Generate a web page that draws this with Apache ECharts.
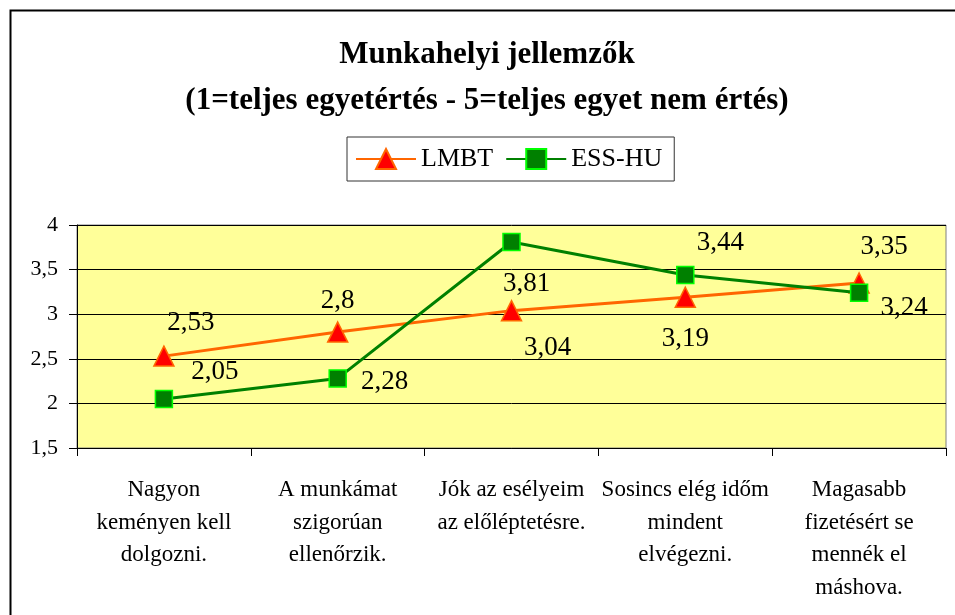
<!DOCTYPE html>
<html>
<head>
<meta charset="utf-8">
<script src="https://cdn.jsdelivr.net/npm/echarts@6/dist/echarts.min.js"></script>
<style>html,body{margin:0;padding:0;background:#fff}#c{width:955px;height:615px}</style>
</head>
<body>
<div id="c"></div>
<script>
const categories = [
  'Nagyon\nkeményen kell\ndolgozni.',
  'A munkámat\nszigorúan\nellenőrzik.',
  'Jók az esélyeim\naz előléptetésre.',
  'Sosincs elég időm\nmindent\nelvégezni.',
  'Magasabb\nfizetésért se\nmennék el\nmáshova.'
];
const lmbt = [2.53, 2.8, 3.04, 3.19, 3.35];
const essHu = [2.05, 2.28, 3.81, 3.44, 3.24];
const yTicks = { min: 1.5, max: 4, interval: 0.5 };

// label offsets (styling only)
const lmbtOffsets = [[27,-33],[0,-31],[36,37],[0,42],[25,-36]];
const essOffsets = [[51,-27],[47,3],[15,42],[35,-32],[45,15]];

const FONT = '"Liberation Serif", "Times New Roman", serif';
const fmt = v => String(v).replace('.', ',');

function build(vals, offs) {
  return vals.map((v, i) => ({
    value: v,
    label: { offset: offs[i] }
  }));
}

const chart = echarts.init(document.getElementById('c'), null, { renderer: 'canvas' });
chart.setOption({
  animation: false,
  backgroundColor: '#ffffff',
  textStyle: { fontFamily: FONT },
  title: {
    text: 'Munkahelyi jellemzők\n(1=teljes egyetértés - 5=teljes egyet nem értés)',
    left: 482,
    top: 27,
    textAlign: 'center',
    textStyle: { fontFamily: FONT, fontSize: 31, fontWeight: 'bold', color: '#000', lineHeight: 46 }
  },
  legend: {
    left: 347,
    top: 137,
    orient: 'horizontal',
    itemWidth: 60,
    itemHeight: 25,
    itemGap: 12,
    padding: [9, 12, 9, 8],
    borderColor: '#333',
    borderWidth: 1,
    textStyle: { fontFamily: FONT, fontSize: 26, color: '#000' },
    data: ['LMBT', 'ESS-HU']
  },
  grid: { left: 77, right: 9, top: 225, bottom: 167, show: true, backgroundColor: '#FFFF99', borderColor: '#808080', borderWidth: 1 },
  xAxis: {
    type: 'category',
    data: categories,
    boundaryGap: true,
    axisLine: { lineStyle: { color: '#000', width: 1 } },
    axisTick: { show: true, length: 8, alignWithLabel: false, lineStyle: { color: '#000' } },
    axisLabel: { interval: 0, margin: 26, fontFamily: FONT, fontSize: 23, lineHeight: 32.5, color: '#000', align: 'center' }
  },
  yAxis: {
    type: 'value',
    min: yTicks.min,
    max: yTicks.max,
    interval: yTicks.interval,
    axisLine: { show: true, lineStyle: { color: '#000', width: 1 } },
    axisTick: { show: true, length: 8, lineStyle: { color: '#000' } },
    splitLine: { show: true, lineStyle: { color: '#000', width: 1 } },
    axisLabel: { margin: 19, fontFamily: FONT, fontSize: 22, color: '#000', formatter: v => fmt(v) }
  },
  series: [
    {
      name: 'LMBT',
      type: 'line',
      data: build(lmbt, lmbtOffsets),
      symbol: 'triangle',
      symbolSize: 20,
      lineStyle: { color: '#FF6600', width: 3 },
      itemStyle: { color: '#FF0000', borderColor: '#FF6600', borderWidth: 1.5 },
      label: { show: true, position: 'inside', fontFamily: FONT, fontSize: 27, color: '#000', formatter: p => fmt(p.value) },
      z: 3
    },
    {
      name: 'ESS-HU',
      type: 'line',
      data: build(essHu, essOffsets),
      symbol: 'rect',
      symbolSize: 17,
      lineStyle: { color: '#008000', width: 3 },
      itemStyle: { color: '#008000', borderColor: '#00FF00', borderWidth: 1.5 },
      label: { show: true, position: 'inside', fontFamily: FONT, fontSize: 27, color: '#000', formatter: p => fmt(p.value) },
      z: 4
    }
  ],
  graphic: [
    { type: 'rect', left: 8, top: 8, shape: { x: 0, y: 0, width: 1000, height: 1000 }, style: { fill: 'none', stroke: '#000', lineWidth: 2 }, z: 100, silent: true }
  ]
});
</script>
</body>
</html>
